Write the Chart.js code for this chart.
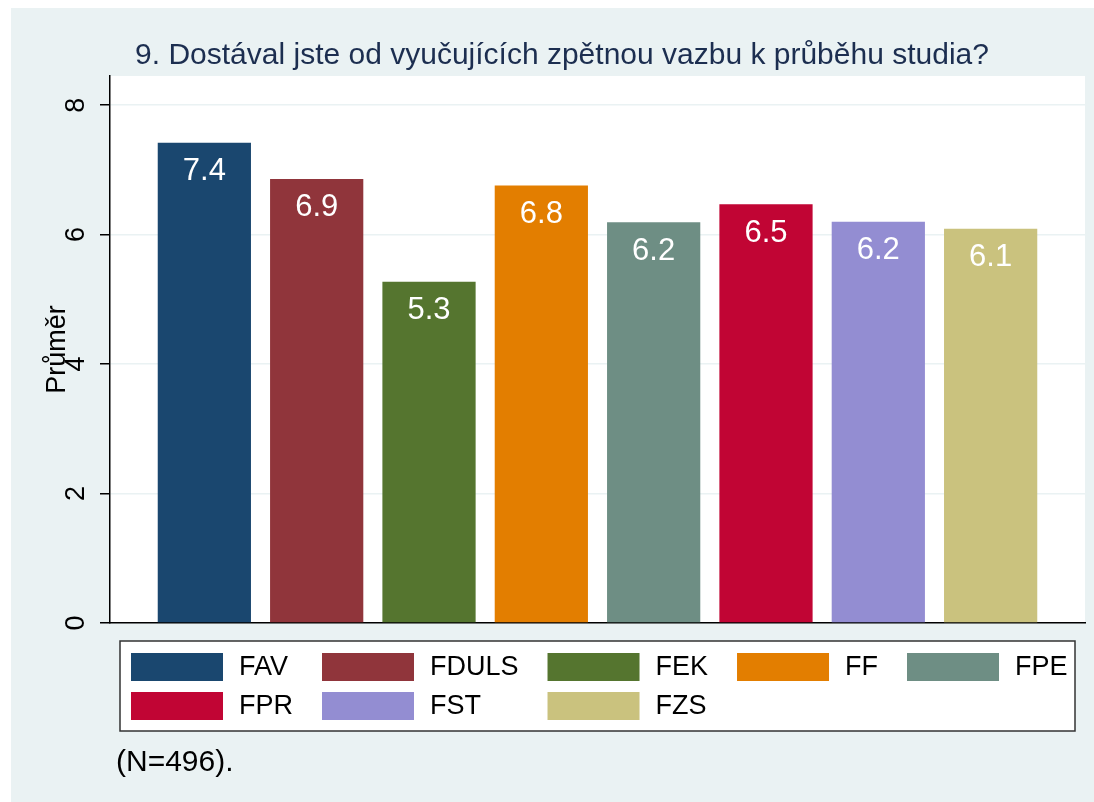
<!DOCTYPE html>
<html>
<head>
<meta charset="utf-8">
<script src="https://cdn.jsdelivr.net/npm/chart.js@4"></script>
<style>
  html, body { margin: 0; padding: 0; background: #fff; }
  #wrap { width: 1094px; height: 802px; }
</style>
</head>
<body>
<div id="wrap"><canvas id="c" width="1094" height="802"></canvas></div>
<script>
// data
const faculties = ['FAV', 'FDULS', 'FEK', 'FF', 'FPE', 'FPR', 'FST', 'FZS'];
const means = [7.42, 6.86, 5.27, 6.76, 6.19, 6.47, 6.20, 6.09];
const barColors = ['#1a476f', '#90353b', '#55752f', '#e37e00', '#6e8e84', '#c10534', '#938dd2', '#cac27e'];
const yTicks = [0, 2, 4, 6, 8];
const titleText = '9. Dostával jste od vyučujících zpětnou vazbu k průběhu studia?';
const yTitle = 'Průměr';
const noteText = '(N=496).';

const FONT = '"Liberation Sans", Arial, sans-serif';
const panel = '#eaf2f3';

const decor = {
    id: 'decor',
    beforeDraw(chart) {
        const ctx = chart.ctx, a = chart.chartArea;
        ctx.save();
        ctx.fillStyle = '#fff';
        ctx.fillRect(0, 0, chart.width, chart.height);
        ctx.fillStyle = panel;
        ctx.fillRect(11, 8, chart.width - 11, chart.height - 8);
        ctx.fillStyle = '#fff';
        ctx.fillRect(a.left, a.top, a.right - a.left, a.bottom - a.top);
        ctx.restore();
    },
    afterDraw(chart) {
        const ctx = chart.ctx;
        ctx.save();
        // title
        ctx.fillStyle = '#1c2e50';
        ctx.font = '30px ' + FONT;
        ctx.textAlign = 'center';
        ctx.textBaseline = 'middle';
        ctx.fillText(titleText, 562, 56);

        // values in bars
        const meta = chart.getDatasetMeta(0);
        ctx.fillStyle = '#fff';
        ctx.font = '31px ' + FONT;
        meta.data.forEach((bar, i) => {
            ctx.fillText(means[i].toFixed(1), bar.x, bar.y + 29);
        });

        // legend
        const box = {x: 120, y: 641, w: 955, h: 90};
        ctx.fillStyle = '#fff';
        ctx.fillRect(box.x, box.y, box.w, box.h);
        ctx.strokeStyle = '#333';
        ctx.lineWidth = 1.5;
        ctx.strokeRect(box.x, box.y, box.w, box.h);
        ctx.font = '27px ' + FONT;
        ctx.textAlign = 'left';
        const nCols = 5, swW = 92, swH = 28;
        let colX = 131;
        for (let c = 0; c < nCols; c++) {
            let widest = 0;
            for (let r = 0; r * nCols + c < faculties.length; r++) {
                const i = r * nCols + c;
                const sy = 653 + r * 39;
                ctx.fillStyle = barColors[i];
                ctx.fillRect(colX, sy, swW, swH);
                ctx.fillStyle = '#000';
                ctx.fillText(faculties[i], colX + 108, sy + swH / 2 + 1);
                widest = Math.max(widest, ctx.measureText(faculties[i]).width);
            }
            colX += 108 + widest + 29;
        }

        // note
        ctx.fillStyle = '#000';
        ctx.font = '30px ' + FONT;
        ctx.fillText(noteText, 116, 763);
        ctx.restore();
    }
};

new Chart(document.getElementById('c'), {
    type: 'bar',
    data: {
        datasets: [{
            data: means.map((v, i) => ({x: i, y: v})),
            backgroundColor: barColors,
            borderWidth: 0,
            barPercentage: 0.83,
            categoryPercentage: 1
        }]
    },
    options: {
        responsive: false,
        animation: false,
        layout: { padding: { left: 0, top: 76, right: 9, bottom: 179 } },
        plugins: { legend: { display: false }, tooltip: { enabled: false } },
        scales: {
            x: {
                type: 'linear',
                offset: false,
                min: -0.84,
                max: 7.84,
                afterBuildTicks: s => { s.ticks = faculties.map((f, i) => ({value: i})); },
                grid: { display: false, offset: false },
                ticks: { display: false },
                border: { display: true, color: '#000', width: 1.5 },
                afterFit: s => { s.height = 0; }
            },
            y: {
                min: 0,
                max: 8.45,
                afterBuildTicks: s => { s.ticks = yTicks.map(v => ({value: v})); },
                ticks: {
                    color: '#000',
                    font: { family: FONT, size: 27 },
                    minRotation: 90,
                    maxRotation: 90,
                    crossAlign: 'center',
                    padding: 16
                },
                grid: { color: panel, lineWidth: 1.5, tickColor: '#000', tickLength: 10, tickWidth: 1.5 },
                border: { display: true, color: '#000', width: 1.5 },
                title: {
                    display: true,
                    text: yTitle,
                    color: '#000',
                    font: { family: FONT, size: 27 },
                    padding: { top: 41, bottom: 0 }
                },
                afterFit: s => { s.width = 110; }
            }
        }
    },
    plugins: [decor]
});
</script>
</body>
</html>
